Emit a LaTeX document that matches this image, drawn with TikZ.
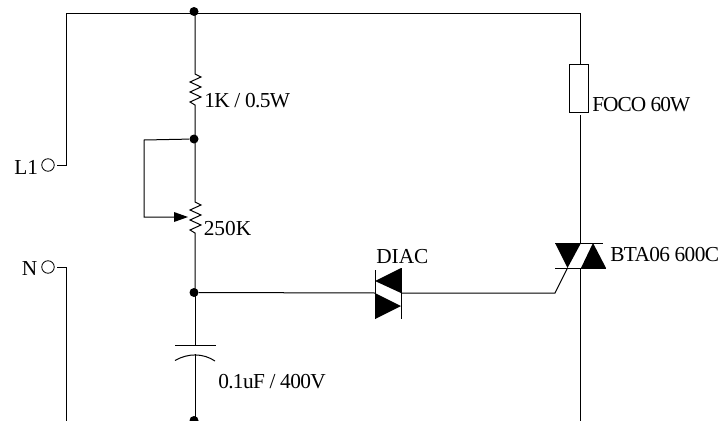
\documentclass[tikz,border=0pt]{standalone}
\usepackage{fontspec}
\setmainfont{Liberation Serif}
\newfontfamily\tightA[LetterSpace=-3]{Liberation Serif}
\newfontfamily\tightB[LetterSpace=-4.5]{Liberation Serif}
\begin{document}
\begin{tikzpicture}[x=0.75pt,y=-0.75pt,
  wire/.style={draw=black,line width=0.75pt},
  dotj/.style={circle,fill=black,inner sep=0pt,minimum size=9*0.75pt},
  term/.style={circle,draw=black,line width=0.6pt,inner sep=0pt,minimum size=12.5*0.75pt,outer sep=2.25pt},
  lbl/.style={inner sep=0pt,anchor=base west,font=\fontsize{16pt}{16pt}\selectfont}]
\useasboundingbox (0,0) rectangle (722,421);
\clip (0,0) rectangle (722,421);
% junctions and terminals
\node[dotj] (jtop) at (194,11.5) {};
\node[dotj] (jmid) at (194,139) {};
\node[dotj] (jlow) at (194,292.5) {};
\node[dotj] (jbot) at (194,420.5) {};
\node[term] (L) at (48,165) {};
\node[term] (N) at (48,267) {};
% named points
\coordinate (tl) at (66.5,13);
\coordinate (tr) at (580.5,13);
\coordinate (ll) at (66.5,165);
\coordinate (nl) at (66.5,267);
\coordinate (nb) at (66.5,421);
\coordinate (rb) at (580.5,421);
\coordinate (r1a) at (195,74);
\coordinate (r1b) at (195,105);
\coordinate (r2a) at (195,202);
\coordinate (r2b) at (195,233);
\coordinate (sq1) at (144,140);
\coordinate (sq2) at (144,217);
\coordinate (wip) at (188,217);
\coordinate (capa) at (195,345);
\coordinate (capb) at (195,354);
\coordinate (dl) at (375,293);
\coordinate (dr) at (401,293);
\coordinate (gk) at (555,293);
\coordinate (gt) at (567.5,268);
\coordinate (tt) at (580.5,243);
\coordinate (tb) at (580.5,268);
% lamp
\node[draw=black,line width=0.75pt,minimum width=19*0.75pt,minimum height=48*0.75pt,inner sep=0pt] (lamp) at (578.5,88) {};
% outer wires
\draw[wire] (L.east) -- (ll) -- (tl) -- (tr) -- (580.5,64);
\draw[wire] (N.east) -- (nl) -- (nb);
\draw[wire] (580.5,115) -- (tt);
\draw[wire] (tb) -- (rb);
% resistor 1
\draw[wire] (195,12) -- (r1a) -- (201,77) -- (190,82) -- (201,87) -- (190,92) -- (201,97) -- (190,102) -- (r1b) -- (195,139);
% pot
\draw[wire] (195,139) -- (r2a) -- (201,205) -- (190,210) -- (201,215) -- (190,220) -- (201,225) -- (190,230) -- (r2b) -- (195,292);
\draw[wire] (jmid) -- (sq1) -- (sq2) -- (174,217);
\fill (174,212) -- (wip) -- (174,222) -- cycle;
% capacitor
\draw[wire] (195,292) -- (capa);
\draw[wire] (175,345) -- (216,345);
\draw[wire] (175,360.5) .. controls (188,353) and (203,353) .. (215,361);
\draw[wire] (capb) -- (195,420);
% diac
\draw[wire] (jlow) -- (dl);
\draw[wire] (dr) -- (gk) -- (gt);
\draw[wire] (375,270) -- (375,319);
\draw[wire] (401,268) -- (401,319);
\fill (401,268) -- (401,293) -- (375,281) -- cycle;
\fill (375,293) -- (375,319) -- (401,306) -- cycle;
% triac
\draw[wire] (555,243) -- (603,243);
\draw[wire] (555,268) -- (606,268);
\fill (555,243) -- (581,243) -- (567.5,268) -- cycle;
\fill (581,268) -- (606,268) -- (593,243) -- cycle;
% labels
\node[lbl] (t1) at (204,107) {\tightA 1K / 0.5W};
\node[lbl] (t2) at (203.5,235) {250K};
\node[lbl] (t3) at (218,388) {\tightA 0.1uF / 400V};
\node[lbl] (t4) at (376,263) {DIAC};
\node[lbl] (t5) at (610,261) {\tightA BTA06 600C};
\node[lbl] (t6) at (592,111) {\tightB FOCO 60W};
\node[lbl] (t7) at (14,174) {L1};
\node[lbl] (t8) at (21.5,275) {N};
\end{tikzpicture}
\end{document}
